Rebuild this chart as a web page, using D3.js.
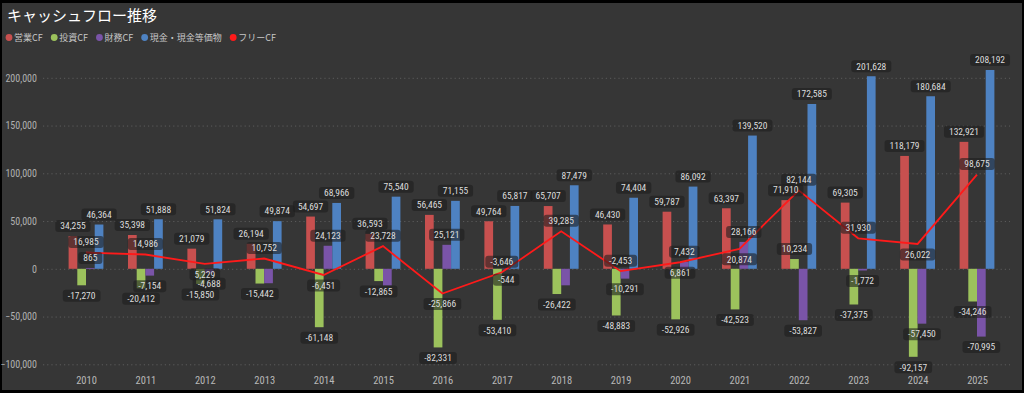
<!DOCTYPE html>
<html lang="ja">
<head>
<meta charset="utf-8">
<title>キャッシュフロー推移</title>
<script src="https://cdn.jsdelivr.net/npm/d3@7"></script>
<style>
  body { margin: 0; background: #000; }
  svg text { font-family: "Noto Sans CJK JP", "Noto Sans", sans-serif; }
  .grid line { stroke: #5c5c5c; stroke-dasharray: 1.2, 3; }
  .grid text { fill: #b0b0b0; font-size: 10px; font-family: "Liberation Sans Narrow", "Roboto Condensed", "DejaVu Sans Condensed", sans-serif; }
  .xaxis text { fill: #b8b8b8; font-size: 10.5px; font-family: "Liberation Sans Narrow", "Roboto Condensed", "DejaVu Sans Condensed", sans-serif; }
  .lbl text { font-family: "Liberation Sans Narrow", "Roboto Condensed", "DejaVu Sans Condensed", sans-serif; font-size: 9.5px; fill: #dcdcdc; }
  .lbl rect { fill: rgba(30, 30, 30, 0.6); }
</style>
</head>
<body>
<svg id="chart" width="1024" height="393"></svg>
<script>
// data (百万円)
var years   = ["2010","2011","2012","2013","2014","2015","2016","2017","2018","2019","2020","2021","2022","2023","2024","2025"];
var opCF    = [34255, 35398, 21079, 26194, 54697, 36593, 56465, 49764, 65707, 46430, 59787, 63397, 71910, 69305, 118179, 132921];
var invCF   = [-17270, -20412, -15850, -15442, -61148, -12865, -82331, -53410, -26422, -48883, -52926, -42523, 10234, -37375, -92157, -34246];
var finCF   = [865, -7154, -4688, -15100, 24123, -17500, 25121, -544, -17300, -10291, 7432, 28166, -53827, -1772, -57450, -70995];
var cash    = [46364, 51888, 51824, 49874, 68966, 75540, 71155, 65817, 87479, 74404, 86092, 139520, 172585, 201628, 180684, 208192];
var freeCF  = [16985, 14986, 5229, 10752, -6451, 23728, -25866, -3646, 39285, -2453, 6861, 20874, 82144, 31930, 26022, 98675];
// labels the original chart hides (overlap)
var hiddenFinLabels = ["2013", "2015", "2018"];
// free CF label: above (1) or below (-1) the point
var freeLabelSide = [1, 1, -1, 1, -1, 1, -1, 1, 1, 1, -1, -1, 1, 1, -1, 1];

var barSeries = [
  { name: "営業CF", values: opCF, color: "#c8504f" },
  { name: "投資CF", values: invCF, color: "#9cc25c" },
  { name: "財務CF", values: finCF, color: "#7a54a8" },
  { name: "現金・現金等価物", values: cash, color: "#4e82c2" }
];
var lineSeries = { name: "フリーCF", values: freeCF, color: "#ff1a1a" };

var svg = d3.select("#chart");
svg.append("rect").attr("x", 2).attr("y", 3).attr("width", 1020).attr("height", 387).attr("fill", "#363636");

// title
svg.append("text").attr("x", 7).attr("y", 21).attr("fill", "#ffffff")
   .attr("font-size", "15px").text("キャッシュフロー推移");

// legend
var legItems = barSeries.map(function(s) { return { name: s.name, color: s.color }; })
   .concat([{ name: lineSeries.name, color: lineSeries.color }]);
var lx = 9;
legItems.forEach(function(it) {
  var g = svg.append("g").attr("transform", "translate(" + lx + ",37.5)");
  g.append("circle").attr("r", 3.4).attr("fill", it.color);
  var t = g.append("text").attr("x", 5).attr("y", 3.2).attr("fill", "#c8c8c8")
           .attr("font-size", "9px").text(it.name);
  lx += 5 + t.node().getComputedTextLength() + 11.5;
});

// scales
var y = d3.scaleLinear().domain([-100000, 200000]).range([364.3, 77.8]);
var x = d3.scalePoint().domain(years).range([86, 977]);
var xin = d3.scaleBand().domain(barSeries.map(function(s) { return s.name; })).range([-17.4, 17.4]);

// grid + y axis
svg.append("g").attr("class", "grid").attr("transform", "translate(43,0)")
   .call(d3.axisLeft(y).tickValues([-100000, -50000, 0, 50000, 100000, 150000, 200000])
          .tickSize(-967).tickPadding(6).tickFormat(d3.format(",")))
   .call(function(g) { g.select(".domain").remove(); });

// x axis
svg.append("g").attr("class", "xaxis").attr("transform", "translate(0,374)")
   .call(d3.axisBottom(x).tickSize(0).tickPadding(3))
   .call(function(g) { g.select(".domain").remove(); });

// bars
var labels = [];
barSeries.forEach(function(s) {
  svg.append("g").selectAll("rect").data(s.values).enter().append("rect")
     .attr("x", function(d, i) { return x(years[i]) + xin(s.name); })
     .attr("width", xin.bandwidth())
     .attr("y", function(d) { return y(Math.max(d, 0)); })
     .attr("height", function(d) { return Math.abs(y(d) - y(0)); })
     .attr("fill", s.color);
  s.values.forEach(function(d, i) {
    if (s.name === "財務CF" && hiddenFinLabels.indexOf(years[i]) >= 0) return;
    labels.push({ x: x(years[i]) + xin(s.name) + xin.bandwidth() / 2,
                  y: d >= 0 ? y(d) - 10 : y(d) + 10.5, v: d });
  });
});

// free CF line
var line = d3.line().x(function(d, i) { return x(years[i]); }).y(function(d) { return y(d); });
svg.append("path").datum(freeCF).attr("d", line).attr("fill", "none")
   .attr("stroke", lineSeries.color).attr("stroke-width", 1.8);
freeCF.forEach(function(d, i) {
  labels.push({ x: x(years[i]), y: y(d) - 10.5 * freeLabelSide[i], v: d });
});

// data labels
var fmt = d3.format(",");
labels.forEach(function(l) {
  var g = svg.append("g").attr("class", "lbl").attr("transform", "translate(" + l.x + "," + l.y + ")");
  var r = g.append("rect");
  var t = g.append("text").attr("text-anchor", "middle").attr("y", 3.3).text(fmt(l.v).replace("−", "-"));
  var w = t.node().getComputedTextLength() + 10;
  r.attr("x", -w / 2).attr("y", -6).attr("width", w).attr("height", 12).attr("rx", 3);
});
</script>
</body>
</html>
